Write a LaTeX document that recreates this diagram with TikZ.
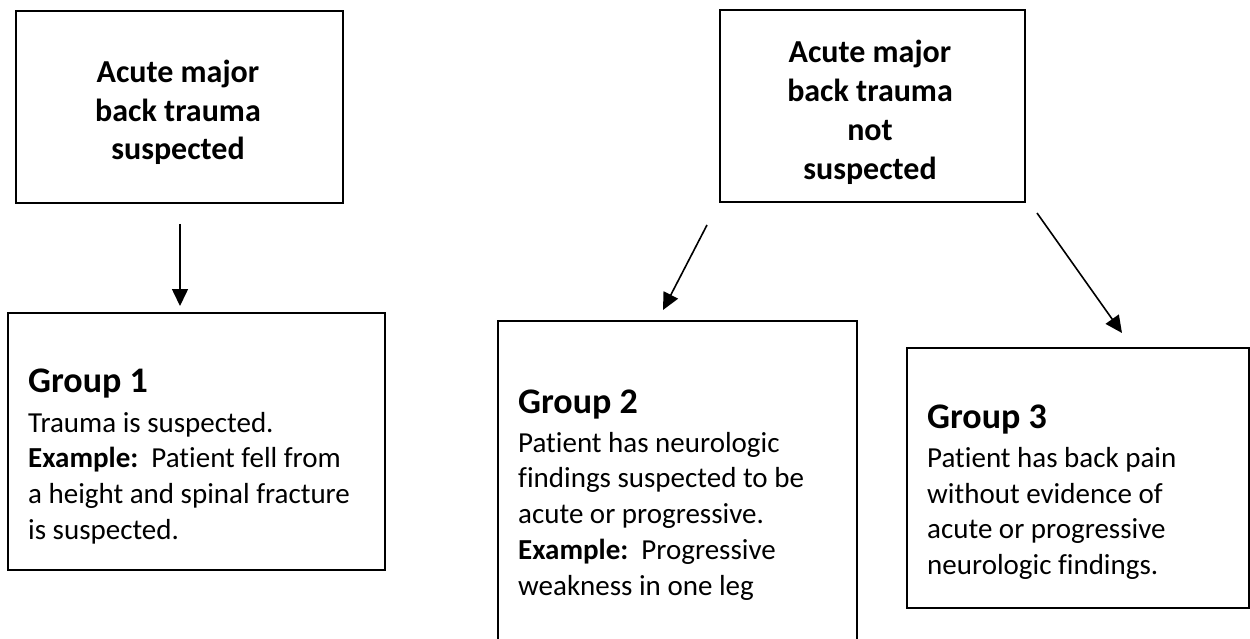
\documentclass[tikz,border=0pt]{standalone}
\usepackage{fontspec}
\setmainfont{Carlito}[Ligatures=NoCommon]
\usetikzlibrary{arrows.meta}
\begin{document}
\begin{tikzpicture}[x=1pt,y=-1pt,
  box/.style={draw, line width=1.6pt, inner sep=0pt},
  hdr/.style={font=\bfseries\fontsize{32}{39}\selectfont, anchor=base, inner sep=0pt},
  ghead/.style={font=\bfseries\fontsize{36}{43}\selectfont, anchor=base west, inner sep=0pt},
  body/.style={font=\fontsize{29}{36}\selectfont, anchor=base west, inner sep=0pt},
  conn/.style={line width=1.6pt, -{Triangle[width=16pt,length=17pt]}}]
\useasboundingbox (0,0) rectangle (1250,639);
\clip (0,0) rectangle (1250,639);
% boxes
\node[box, minimum width=327pt, minimum height=192pt] (A) at (179.5,107) {};
\node[box, minimum width=305pt, minimum height=192pt] (B) at (872.5,106) {};
\node[box, minimum width=377pt, minimum height=257pt] (G1) at (196.5,441.5) {};
\node[box, minimum width=359pt, minimum height=320pt] (G2) at (677.5,481) {};
\node[box, minimum width=342pt, minimum height=260pt] (G3) at (1078,478) {};
% header texts
\node[hdr] (A1) at (178,83) {Acute major};
\node[hdr] (A2) at (178,121.5) {back trauma};
\node[hdr] (A3) at (178,160) {suspected};
\node[hdr] (B1) at (870,63) {Acute major};
\node[hdr] (B2) at (870,102) {back trauma};
\node[hdr] (B3) at (870,141) {not};
\node[hdr] (B4) at (870,180) {suspected};
% group 1
\node[ghead] (G1h) at (28,392) {Group 1};
\node[body] (G1a) at (28,432) {Trauma is suspected.};
\node[body] (G1b) at (28,467.5) {\textbf{Example:}\hspace{0.45em}Patient fell from};
\node[body] (G1c) at (28,503) {a height and spinal fracture};
\node[body] (G1d) at (28,539) {is suspected.};
% group 2
\node[ghead] (G2h) at (518,413) {Group 2};
\node[body] (G2a) at (518,452) {Patient has neurologic};
\node[body] (G2b) at (518,487.5) {findings suspected to be};
\node[body] (G2c) at (518,523) {acute or progressive.};
\node[body] (G2d) at (518,559) {\textbf{Example:}\hspace{0.45em}Progressive};
\node[body] (G2e) at (518,595) {weakness in one leg};
% group 3
\node[ghead] (G3h) at (927,428) {Group 3};
\node[body] (G3a) at (927,467) {Patient has back pain};
\node[body] (G3b) at (927,503) {without evidence of};
\node[body] (G3c) at (927,538) {acute or progressive};
\node[body] (G3d) at (927,574) {neurologic findings.};
% connectors
\coordinate (a1s) at (180,224);
\coordinate (a1e) at (180,306);
\coordinate (a2s) at (707,225);
\coordinate (a2e) at (663,310);
\coordinate (a3s) at (1037,213);
\coordinate (a3e) at (1122,333);
\draw[conn] (a1s) -- (a1e);
\draw[conn] (a2s) -- (a2e);
\draw[conn] (a3s) -- (a3e);
\end{tikzpicture}
\end{document}
